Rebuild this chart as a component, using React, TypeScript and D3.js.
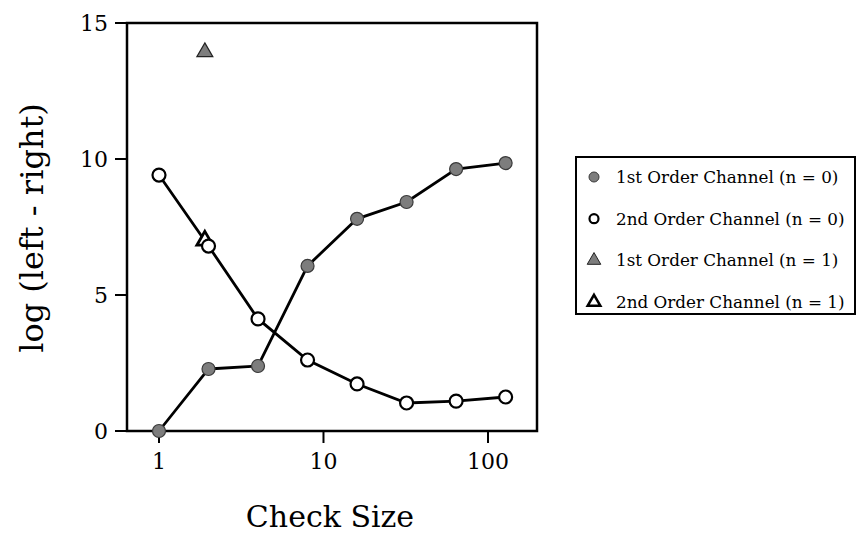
import React, { useEffect, useRef } from 'react';
import * as d3 from 'd3';

const checkSizes = [1, 2, 4, 8, 16, 32, 64, 128];
const firstOrderN0 = [0, 2.28, 2.39, 6.07, 7.8, 8.42, 9.63, 9.85];
const secondOrderN0 = [9.41, 6.8, 4.12, 2.61, 1.73, 1.03, 1.1, 1.25];
const firstOrderN1 = [{ size: 1.9, value: 13.93 }];
const secondOrderN1 = [{ size: 1.9, value: 7.0 }];
const xTicks = [1, 10, 100];
const yTicks = [0, 5, 10, 15];
const legendLabels = [
  '1st Order Channel (n = 0)',
  '2nd Order Channel (n = 0)',
  '1st Order Channel (n = 1)',
  '2nd Order Channel (n = 1)',
];

const width = 858;
const height = 535;
const font = 'DejaVu Serif';
const grey = '#7d7d7d';

function App() {
  const ref = useRef(null);

  useEffect(() => {
    document.body.style.margin = '0';
    const svg = d3.select(ref.current);
    svg.selectAll('*').remove();

    const x = d3.scaleLog().domain([0.639, 198.6]).range([127, 537]);
    const y = d3.scaleLinear().domain([0, 15]).range([431, 23]);

    // frame
    svg.append('rect')
      .attr('x', 127).attr('y', 23)
      .attr('width', 410).attr('height', 408)
      .attr('fill', 'none').attr('stroke', '#000').attr('stroke-width', 2.5);

    // y ticks
    svg.selectAll('.ytick').data(yTicks).enter()
      .append('line')
      .attr('x1', 115).attr('x2', 127)
      .attr('y1', (d) => y(d)).attr('y2', (d) => y(d))
      .attr('stroke', '#000').attr('stroke-width', 2);
    svg.selectAll('.ylab').data(yTicks).enter()
      .append('text')
      .attr('x', 108).attr('y', (d) => y(d))
      .attr('dy', '0.35em')
      .attr('text-anchor', 'end')
      .style('font-family', font).style('font-size', '22px')
      .text((d) => d);

    // x ticks
    svg.selectAll('.xtick').data(xTicks).enter()
      .append('line')
      .attr('x1', (d) => x(d)).attr('x2', (d) => x(d))
      .attr('y1', 431).attr('y2', 443)
      .attr('stroke', '#000').attr('stroke-width', 2);
    svg.selectAll('.xlab').data(xTicks).enter()
      .append('text')
      .attr('x', (d) => x(d)).attr('y', 469)
      .attr('text-anchor', 'middle')
      .style('font-family', font).style('font-size', '22px')
      .text((d) => d);

    // axis titles
    svg.append('text')
      .attr('transform', 'translate(43, 228) rotate(-90)')
      .attr('text-anchor', 'middle')
      .style('font-family', font).style('font-size', '32px')
      .text('log (left - right)');
    svg.append('text')
      .attr('x', 330).attr('y', 527)
      .attr('text-anchor', 'middle')
      .style('font-family', font).style('font-size', '30px')
      .text('Check Size');

    const line = d3.line()
      .x((d) => x(d[0]))
      .y((d) => y(d[1]));

    const first = checkSizes.map((s, i) => [s, firstOrderN0[i]]);
    const second = checkSizes.map((s, i) => [s, secondOrderN0[i]]);

    svg.append('path').attr('d', line(first))
      .attr('fill', 'none').attr('stroke', '#000').attr('stroke-width', 2.8);
    svg.append('path').attr('d', line(second))
      .attr('fill', 'none').attr('stroke', '#000').attr('stroke-width', 2.8);

    const tri = d3.symbol().type(d3.symbolTriangle).size(110);

    // open triangle n=1
    svg.selectAll('.t2').data(secondOrderN1).enter()
      .append('path')
      .attr('d', tri)
      .attr('transform', (d) => `translate(${x(d.size)}, ${y(d.value)})`)
      .attr('fill', '#fff').attr('stroke', '#000').attr('stroke-width', 2.8);

    svg.selectAll('.c1').data(first).enter()
      .append('circle')
      .attr('cx', (d) => x(d[0])).attr('cy', (d) => y(d[1]))
      .attr('r', 6.5)
      .attr('fill', grey).attr('stroke', '#3a3a3a').attr('stroke-width', 1.2);

    svg.selectAll('.c2').data(second).enter()
      .append('circle')
      .attr('cx', (d) => x(d[0])).attr('cy', (d) => y(d[1]))
      .attr('r', 6.5)
      .attr('fill', '#fff').attr('stroke', '#000').attr('stroke-width', 2.2);

    svg.selectAll('.t1').data(firstOrderN1).enter()
      .append('path')
      .attr('d', tri)
      .attr('transform', (d) => `translate(${x(d.size)}, ${y(d.value)})`)
      .attr('fill', grey).attr('stroke', '#222').attr('stroke-width', 1.2);

    // legend
    const lg = svg.append('g');
    lg.append('rect')
      .attr('x', 576).attr('y', 157)
      .attr('width', 279).attr('height', 157)
      .attr('fill', 'none').attr('stroke', '#000').attr('stroke-width', 2);

    const rowY = (i) => 177 + i * 41.7;
    const mx = 594;

    lg.append('circle').attr('cx', mx).attr('cy', rowY(0)).attr('r', 5)
      .attr('fill', grey).attr('stroke', '#3a3a3a').attr('stroke-width', 1);
    lg.append('circle').attr('cx', mx).attr('cy', rowY(1)).attr('r', 4.5)
      .attr('fill', '#fff').attr('stroke', '#000').attr('stroke-width', 2.2);
    lg.append('path').attr('d', d3.symbol().type(d3.symbolTriangle).size(80))
      .attr('transform', `translate(${mx}, ${rowY(2)})`)
      .attr('fill', grey).attr('stroke', '#222').attr('stroke-width', 1);
    lg.append('path').attr('d', d3.symbol().type(d3.symbolTriangle).size(70))
      .attr('transform', `translate(${mx}, ${rowY(3)})`)
      .attr('fill', '#fff').attr('stroke', '#000').attr('stroke-width', 2.5);

    lg.selectAll('.lt').data(legendLabels).enter()
      .append('text')
      .attr('x', 616).attr('y', (_, i) => rowY(i))
      .attr('dy', '0.35em')
      .style('font-family', font).style('font-size', '16.8px')
      .text((d) => d);
  }, []);

  return <svg ref={ref} width={width} height={height} style={{ display: 'block', background: '#fff' }} />;
}

export default App;
